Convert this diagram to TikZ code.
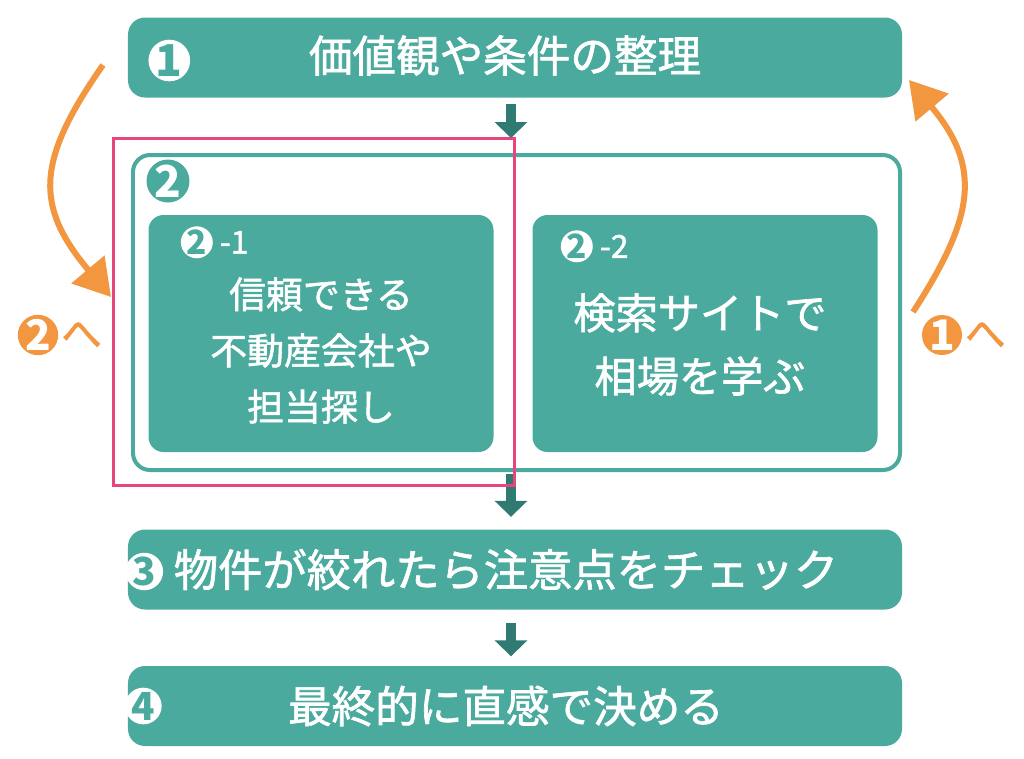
\documentclass[tikz,border=0pt]{standalone}
\usepackage{fontspec}
\setmainfont{Noto Sans CJK JP}
\newfontfamily\medfont{Noto Sans CJK JP}[FakeBold=1.5]
\usetikzlibrary{arrows.meta,calc,positioning}
\definecolor{boxteal}{HTML}{4AAA9D}
\definecolor{arrteal}{HTML}{2F7A72}
\definecolor{loopor}{HTML}{F39640}
\definecolor{markpink}{HTML}{E8457B}
\tikzstyle{bar}=[rectangle,fill=boxteal,rounded corners=0.17cm,minimum width=7.74cm,minimum height=0.8cm]
\tikzstyle{bartext}=[text=white,font=\medfont\fontsize{12.4}{14}\selectfont]
\tikzstyle{grp}=[rectangle,draw=boxteal,line width=0.04cm,rounded corners=0.17cm,minimum width=7.67cm,minimum height=3.15cm]
\tikzstyle{sub}=[rectangle,fill=boxteal,rounded corners=0.15cm,minimum width=3.45cm,minimum height=2.37cm]
\tikzstyle{subtext}=[text=white,align=center]
\tikzstyle{dotw}=[circle,fill=white,inner sep=0pt,text=boxteal,font=\bfseries\fontsize{12.5}{12.5}\selectfont]
\tikzstyle{dott}=[circle,fill=boxteal,inner sep=0pt,text=white,font=\bfseries\fontsize{12.5}{12.5}\selectfont]
\tikzstyle{doto}=[circle,fill=loopor,inner sep=0pt,minimum size=0.4cm,text=white,font=\bfseries\fontsize{12}{12}\selectfont]
\tikzstyle{flow}=[draw=arrteal,line width=0.1cm,-{Triangle[length=0.16cm,width=0.32cm]}]
\tikzstyle{back}=[draw=loopor,line width=0.06cm,-{Triangle[length=0.36cm,width=0.42cm]}]

\begin{document}
\begin{tikzpicture}
	\useasboundingbox (0,0) rectangle (10.24,-7.58);
	% steps
	\node[bar] (s1) at (5.15,-0.575) {};
	\node[grp] (s2) at (5.165,-3.125) {};
	\node[sub] (s21) at (3.21,-3.335) {};
	\node[sub] (s22) at (7.05,-3.335) {};
	\node[bar] (s3) at (5.15,-5.695) {};
	\node[bar] (s4) at (5.15,-7.06) {};
	\node[bartext] (t1) at ($(s1.center)+(-0.1,0.02)$) {価値観や条件の整理};
	\node[bartext,font=\medfont\fontsize{12.6}{14}\selectfont] (t3) at ($(s3.center)+(-0.09,0)$) {物件が絞れたら注意点をチェック};
	\node[bartext] (t4) at ($(s4.center)+(-0.09,0)$) {最終的に直感で決める};
	% numbers
	\node[dotw,minimum size=0.41cm] (n1) at ($(s1.west)+(0.42,-0.03)$) {1};
	\node[dott,minimum size=0.43cm] (n2) at ($(s2.north west)+(0.37,-0.28)$) {2};
	\node[dotw,minimum size=0.28cm,font=\bfseries\fontsize{9.5}{9.5}\selectfont] (n21) at ($(s21.north west)+(0.49,-0.28)$) {2};
	\node[text=white,font=\medfont\fontsize{9}{9}\selectfont,right=-0.06cm of n21] (n21b) {-1};
	\node[dotw,minimum size=0.28cm,font=\bfseries\fontsize{9.5}{9.5}\selectfont] (n22) at ($(s22.north west)+(0.45,-0.32)$) {2};
	\node[text=white,font=\medfont\fontsize{9}{9}\selectfont,right=-0.06cm of n22] (n22b) {-2};
	\node[dotw,minimum size=0.34cm,font=\bfseries\fontsize{11}{11}\selectfont] (n3) at ($(s3.west)+(0.17,-0.02)$) {3};
	\node[dotw,minimum size=0.36cm,font=\bfseries\fontsize{11}{11}\selectfont] (n4) at ($(s4.west)+(0.16,0)$) {4};
	% texts of the two sub steps
	\node[subtext,font=\medfont\fontsize{10.5}{16}\selectfont] (t21) at ($(s21.center)+(0.0,-0.17)$) {信頼できる\\不動産会社や\\担当探し};
	\node[subtext,font=\medfont\fontsize{12}{18}\selectfont] (t22) at ($(s22.center)+(-0.05,-0.11)$) {検索サイトで\\相場を学ぶ};
	% flow arrows
	\draw[flow,shorten <=0.06cm,shorten >=0.15cm] ($(s1.south)+(-0.04,0)$) -- ($(s2.north)+(-0.055,0)$);
	\draw[flow,shorten <=0.02cm,shorten >=0.12cm] ($(s2.south)+(-0.055,0)$) -- ($(s3.north)+(-0.04,0)$);
	\draw[flow,shorten <=0.13cm,shorten >=0.09cm] ($(s3.south)+(-0.04,0)$) -- ($(s4.north)+(-0.04,0)$);
	% marked part
	\node[rectangle,draw=markpink,line width=0.03cm,minimum width=4.01cm,minimum height=3.47cm] (mark) at (3.135,-3.115) {};
	% loops
	\coordinate (la) at (1.03,-0.65);
	\coordinate (lb) at (1.11,-2.97);
	\coordinate (ra) at (9.13,-3.12);
	\coordinate (rb) at (9.09,-0.80);
	\draw[back] (la) to[out=235,in=130,looseness=1.3] (lb);
	\draw[back] (ra) to[out=57,in=-50,looseness=1.25] (rb);
	\node[doto] (o2) at (0.38,-3.35) {2};
	\node[text=loopor,font=\medfont\fontsize{11.5}{12}\selectfont,right=-0.1cm of o2] (o2b) {へ};
	\node[doto] (o1) at (9.42,-3.35) {1};
	\node[text=loopor,font=\medfont\fontsize{11.5}{12}\selectfont,right=-0.1cm of o1] (o1b) {へ};
\end{tikzpicture}
\end{document}
